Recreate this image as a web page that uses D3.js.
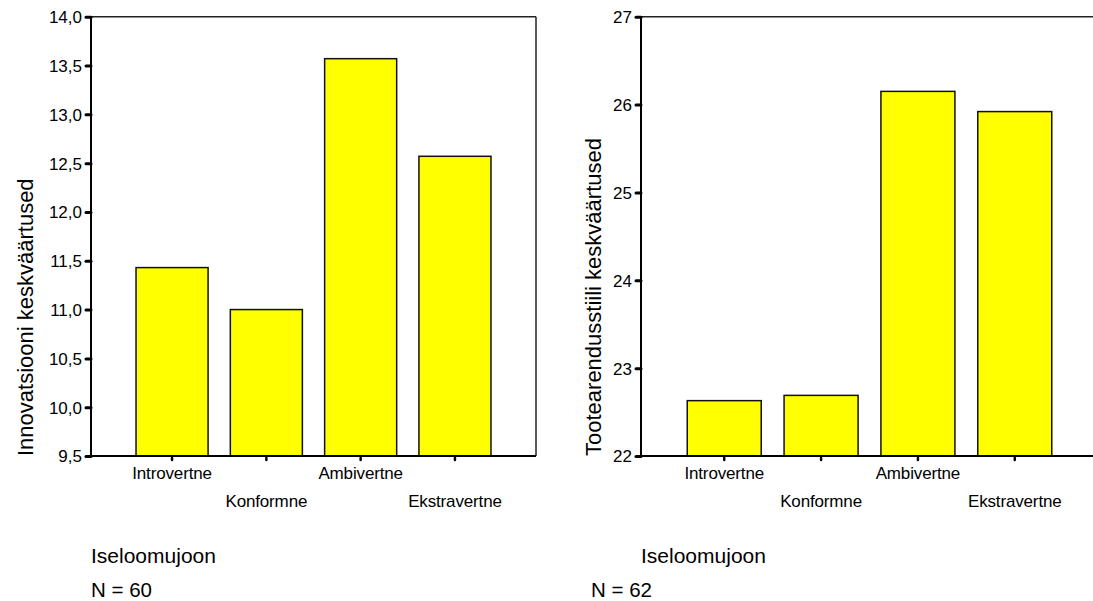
<!DOCTYPE html>
<html>
<head>
<meta charset="utf-8">
<script src="https://cdn.jsdelivr.net/npm/d3@7"></script>
<style>
  html, body { margin: 0; padding: 0; background: #fff; }
  svg { display: block; }
  text { font-family: "Liberation Sans", Arial, Helvetica, sans-serif; fill: #000; }
</style>
</head>
<body>
<svg id="chart" width="1093" height="601"></svg>
<script>
// ---- data ----
const categories = ["Introvertne", "Konformne", "Ambivertne", "Ekstravertne"];
const innovValues = [11.43, 11.00, 13.57, 12.57];
const tooteValues = [22.63, 22.69, 26.15, 25.92];
const innovTicks = [9.5, 10.0, 10.5, 11.0, 11.5, 12.0, 12.5, 13.0, 13.5, 14.0];
const tooteTicks = [22, 23, 24, 25, 26, 27];
const yTitles = ["Innovatsiooni keskväärtused", "Tootearendusstiili keskväärtused"];
const xTitle = "Iseloomujoon";
const nLabels = ["N = 60", "N = 62"];

const svg = d3.select("#chart");

function panel(cfg) {
  const g = svg.append("g");
  const x = d3.scaleBand().domain(categories).range([cfg.x0, cfg.x1])
    .paddingInner(0.236).paddingOuter(0.4775);
  const y = d3.scaleLinear().domain(cfg.domain).range([cfg.yBottom, cfg.yTop]);

  // frame: top and right border
  g.append("line").attr("x1", cfg.x0).attr("x2", cfg.x1).attr("y1", cfg.yTop).attr("y2", cfg.yTop)
    .attr("stroke", "#222").attr("stroke-width", 1.5);
  g.append("line").attr("x1", cfg.x1).attr("x2", cfg.x1).attr("y1", cfg.yTop).attr("y2", cfg.yBottom)
    .attr("stroke", "#222").attr("stroke-width", 1.5);

  // bars
  g.selectAll("rect.bar").data(cfg.values).enter().append("rect")
    .attr("class", "bar")
    .attr("x", (d, i) => x(categories[i]))
    .attr("width", x.bandwidth())
    .attr("y", d => y(d))
    .attr("height", d => y(cfg.domain[0]) - y(d))
    .attr("fill", "#ffff00")
    .attr("stroke", "#111")
    .attr("stroke-width", 1.5);

  // y axis
  const yAxis = d3.axisLeft(y).tickValues(cfg.ticks).tickSize(5).tickPadding(4)
    .tickFormat(cfg.fmt);
  const ya = g.append("g").attr("transform", `translate(${cfg.x0},0)`).call(yAxis);
  ya.select(".domain").remove();
  ya.selectAll(".tick line").attr("stroke", "#000").attr("stroke-width", 3).attr("stroke-linecap", "round");
  ya.selectAll(".tick text").style("font-size", "17px").attr("dy", "0.35em")
    .style("font-family", "'Liberation Sans', Arial, sans-serif");
  g.append("line").attr("x1", cfg.x0).attr("x2", cfg.x0).attr("y1", cfg.yTop).attr("y2", cfg.yBottom + 1)
    .attr("stroke", "#000").attr("stroke-width", 2);

  // x axis
  const xAxis = d3.axisBottom(x).tickSize(4).tickPadding(0).tickFormat("");
  const xa = g.append("g").attr("transform", `translate(0,${cfg.yBottom})`).call(xAxis);
  xa.select(".domain").remove();
  xa.selectAll(".tick line").attr("stroke", "#000").attr("stroke-width", 2.5).attr("stroke-linecap", "round")
    .attr("y1", 2);
  g.append("line").attr("x1", cfg.x0 - 4).attr("x2", cfg.x1).attr("y1", cfg.yBottom).attr("y2", cfg.yBottom)
    .attr("stroke", "#000").attr("stroke-width", 2);

  // staggered category labels
  g.selectAll("text.cat").data(categories).enter().append("text")
    .attr("class", "cat")
    .attr("x", d => x(d) + x.bandwidth() / 2)
    .attr("y", (d, i) => i % 2 === 0 ? cfg.yBottom + 23 : cfg.yBottom + 51)
    .attr("text-anchor", "middle")
    .style("font-size", "17px")
    .style("letter-spacing", "-0.15px")
    .text(d => d);

  // y title
  g.append("text")
    .attr("transform", `translate(${cfg.yTitleX},${cfg.yBottom}) rotate(-90)`)
    .attr("text-anchor", "start")
    .style("font-size", "22px")
    .text(cfg.yTitle);

  // x title and N
  g.append("text").attr("x", cfg.xTitleX).attr("y", 563).style("font-size", "21px").text(xTitle);
  g.append("text").attr("x", cfg.nX).attr("y", 597).style("font-size", "20.5px").text(cfg.n);
}

panel({
  x0: 91, x1: 536, yTop: 16.7, yBottom: 456,
  domain: [9.5, 14], values: innovValues, ticks: innovTicks,
  fmt: d => d3.format(".1f")(d).replace(".", ","),
  yTitle: yTitles[0], yTitleX: 33, xTitleX: 91, nX: 91, n: nLabels[0]
});
panel({
  x0: 641, x1: 1098, yTop: 16.7, yBottom: 456,
  domain: [22, 27], values: tooteValues, ticks: tooteTicks,
  fmt: d => d3.format("d")(d),
  yTitle: yTitles[1], yTitleX: 601, xTitleX: 641, nX: 591, n: nLabels[1]
});
</script>
</body>
</html>
